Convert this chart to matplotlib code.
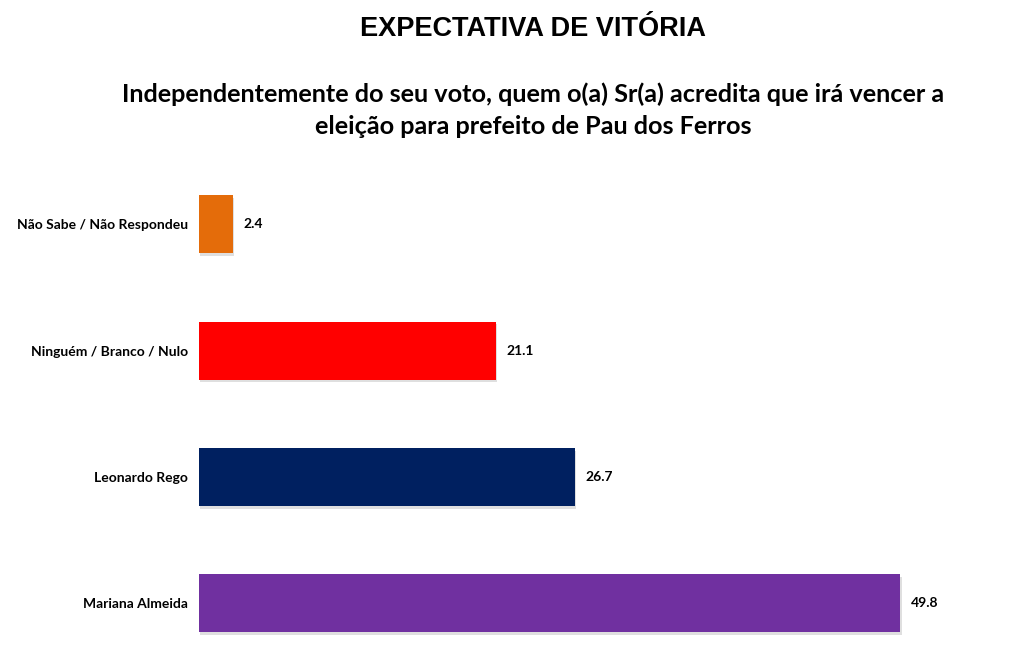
import matplotlib
matplotlib.use('Agg')
import matplotlib.pyplot as plt
import matplotlib.patheffects as pe

categories = ['Mariana Almeida', 'Leonardo Rego', 'Ninguém / Branco / Nulo', 'Não Sabe / Não Respondeu']
values = [49.8, 26.7, 21.1, 2.4]
colors = ['#7030A0', '#002060', '#FF0000', '#E46C0A']

fig = plt.figure(figsize=(10.19, 6.55), dpi=100)
ax = fig.add_axes([199/1019, 5/655, 800/1019, 480/655])

pos = list(range(len(categories)))
bars = ax.barh(pos, values, height=0.46, color=colors)
for b in bars:
    b.set_path_effects([pe.SimplePatchShadow(offset=(1, -2), shadow_rgbFace='gray', alpha=0.25), pe.Normal()])

ax.set_xlim(0, 800/14.08)
ax.set_ylim(-0.372, 3.431)
ax.set_yticks(pos)
ax.set_yticklabels(categories, fontsize=10, fontweight='bold', family='Lato')
ax.tick_params(axis='y', length=0, pad=8)
ax.set_xticks([])
for s in ax.spines.values():
    s.set_visible(False)

for p, v in zip(pos, values):
    ax.text(v + 0.75, p, f'{v:.1f}', va='center', ha='left', fontsize=10, fontweight='bold', family='Lato')

fig.text(533/1019, 1 - 29/655, 'EXPECTATIVA DE VITÓRIA', ha='center', va='center',
         fontsize=19.5, fontweight='bold', family='Liberation Sans')
fig.text(533/1019, 1 - 110/655,
         'Independentemente do seu voto, quem o(a) Sr(a) acredita que irá vencer a\neleição para prefeito de Pau dos Ferros',
         ha='center', va='center', fontsize=18.2, fontweight='bold', family='Lato', linespacing=1.45)

fig.savefig('out.png', dpi=100)
